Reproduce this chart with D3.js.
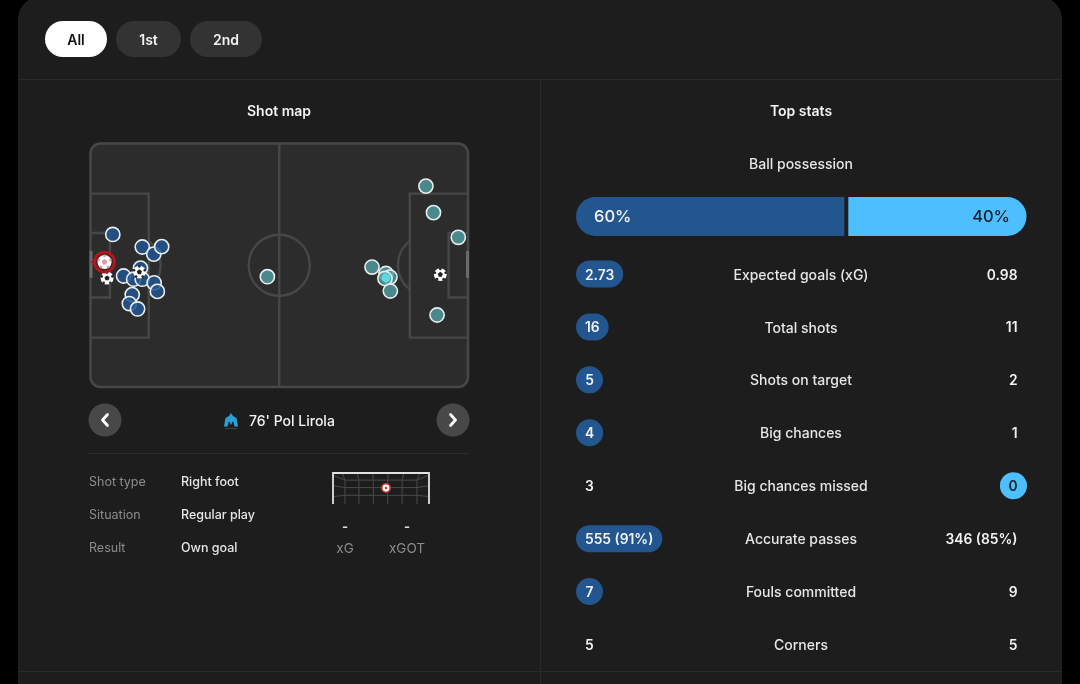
<!DOCTYPE html>
<html>
<head>
<meta charset="utf-8">
<script src="https://cdn.jsdelivr.net/npm/d3@7"></script>
<style>
html, body { margin: 0; padding: 0; background: #000; overflow: hidden; }
svg { display: block; filter: blur(0.35px); }
text { font-family: Inter, Lato, sans-serif; }
</style>
</head>
<body>
<svg id="chart" width="1080" height="684"></svg>
<script>
// pitch is in metres, 105 x 68
const homeShotX = [6.2, 14.4, 17.6, 19.8, 9.2, 12.0, 13.9, 14.4, 17.7, 18.6, 11.6, 10.8, 13.1];
const homeShotY = [25.4, 28.9, 30.9, 28.8, 37.0, 37.9, 34.8, 37.9, 38.9, 41.3, 42.2, 44.7, 46.2];
const awayShotX = [93.3, 95.4, 102.3, 78.3, 82.2, 83.3, 81.9, 83.4, 96.4, 49.2];
const awayShotY = [11.9, 19.3, 26.2, 34.5, 36.3, 37.3, 37.7, 41.2, 47.9, 37.2];
const goalX = [13.6, 4.6, 97.3];
const goalY = [35.9, 37.6, 36.6];
const ownGoal = [3.9, 33.1];

const periods = ["All", "1st", "2nd"];
const possession = [60, 40];
const statLabels = ["Expected goals (xG)", "Total shots", "Shots on target", "Big chances",
    "Big chances missed", "Accurate passes", "Fouls committed", "Corners"];
const homeStats = ["2.73", "16", "5", "4", "3", "555 (91%)", "7", "5"];
const awayStats = ["0.98", "11", "2", "1", "0", "346 (85%)", "9", "5"];
const statLeader = ["home", "home", "home", "home", "away", "home", "home", "none"];
const shotInfoLabels = ["Shot type", "Situation", "Result"];
const shotInfoValues = ["Right foot", "Regular play", "Own goal"];
const xgLabels = ["xG", "xGOT"];
const xgValues = ["-", "-"];

const HOME = "#23558f", AWAY = "#4dbfff", TEAL = "#4f9a9c";
const LINE = "#474747", WHITE = "#f2f2f2", GREY = "#8c8c8c";

const svg = d3.select("#chart");

function label(sel, x, y, txt, size, fill, anchor, weight) {
    return sel.append("text").attr("x", x).attr("y", y + 0.7).attr("dy", "0.35em")
        .attr("font-size", size).attr("fill", fill)
        .attr("text-anchor", anchor || "start")
        .attr("font-weight", weight || 500)
        .text(txt);
}

// card
svg.append("rect").attr("x", 18).attr("y", -3).attr("width", 1044).attr("height", 760)
    .attr("rx", 22).attr("fill", "#1d1d1d");
const dividers = svg.append("g").attr("stroke", "#2a2a2a").attr("stroke-width", 1);
dividers.append("line").attr("x1", 18).attr("x2", 1062).attr("y1", 79.5).attr("y2", 79.5);
dividers.append("line").attr("x1", 18).attr("x2", 1062).attr("y1", 671.5).attr("y2", 671.5);
dividers.append("line").attr("x1", 540.5).attr("x2", 540.5).attr("y1", 80).attr("y2", 684);

// period buttons
const tabLeft = [45, 116, 190], tabWidth = [62, 65, 72];
periods.forEach(function (p, i) {
    svg.append("rect").attr("x", tabLeft[i]).attr("y", 21).attr("width", tabWidth[i]).attr("height", 36)
        .attr("rx", 18).attr("fill", i == 0 ? "#fff" : "#333");
    label(svg, tabLeft[i] + tabWidth[i] / 2, 39.5, p, 14, i == 0 ? "#111" : WHITE, "middle", 600);
});

label(svg, 279, 110.5, "Shot map", 14, WHITE, "middle", 600);
label(svg, 801, 110.5, "Top stats", 14, WHITE, "middle", 600);

/* pitch */
const x = d3.scaleLinear().domain([0, 105]).range([90.5, 468]);
const y = d3.scaleLinear().domain([0, 68]).range([143.5, 387]);

const pitch = svg.append("g");
pitch.append("rect").attr("x", x(0)).attr("y", y(0)).attr("width", x(105) - x(0)).attr("height", y(68) - y(0))
    .attr("rx", 10).attr("fill", "#2c2c2c").attr("stroke", LINE).attr("stroke-width", 2.6);

const lines = pitch.append("g").attr("fill", "none").attr("stroke", LINE).attr("stroke-width", 2.4);
lines.append("line").attr("x1", x(52.5)).attr("x2", x(52.5)).attr("y1", y(0)).attr("y2", y(68));
lines.append("circle").attr("cx", x(52.5)).attr("cy", y(34)).attr("r", x(8.5) - x(0));

[0, 105].forEach(function (end) {
    const dir = end == 0 ? 1 : -1;
    // penalty and six yard boxes
    lines.append("path").attr("d", d3.line()([
        [x(end), y(14)], [x(end + dir * 16.2), y(14)], [x(end + dir * 16.2), y(54.2)], [x(end), y(54.2)]]));
    lines.append("path").attr("d", d3.line()([
        [x(end), y(25)], [x(end + dir * 5.4), y(25)], [x(end + dir * 5.4), y(43)], [x(end), y(43)]]));
    // penalty arc
    const r = x(8.5) - x(0);
    const a = Math.acos(5.2 / 8.5);
    const arc = d3.path();
    const cx = x(end + dir * 11), cy = y(34);
    if (dir == 1) arc.arc(cx, cy, r, -a, a);
    else arc.arc(cx, cy, r, Math.PI - a, Math.PI + a);
    lines.append("path").attr("d", arc.toString());
    // goal
    pitch.append("rect").attr("x", end == 0 ? x(0) - 1 : x(105) - 2).attr("y", y(30)).attr("width", 3)
        .attr("height", y(37.5) - y(30)).attr("fill", "#6a6a6a");
});

function drawShots(xs, ys, color) {
    pitch.append("g").selectAll("circle").data(xs).join("circle")
        .attr("cx", d => x(d))
        .attr("cy", (d, i) => y(ys[i]))
        .attr("r", 7.1)
        .attr("fill", color)
        .attr("fill-opacity", 0.85)
        .attr("stroke", "#e8eef0")
        .attr("stroke-width", 1.6);
}

function drawBall(sel, cx, cy, r, ink) {
    const g = sel.append("g").attr("transform", "translate(" + cx + "," + cy + ")");
    g.append("circle").attr("r", r).attr("fill", "#fff");
    const hex = d3.range(5).map(function (i) {
        const t = -Math.PI / 2 + i * 2 * Math.PI / 5;
        return [Math.cos(t) * r * 0.42, Math.sin(t) * r * 0.42];
    });
    g.append("path").attr("d", d3.line()(hex) + "Z").attr("fill", ink);
    hex.forEach(function (p) {
        g.append("circle").attr("cx", p[0] * 2.1).attr("cy", p[1] * 2.1).attr("r", r * 0.2).attr("fill", ink);
    });
    return g;
}

drawShots(homeShotX, homeShotY, HOME);
drawShots(awayShotX, awayShotY, TEAL);
// the lit one in the cluster
pitch.append("circle").attr("cx", x(82.2)).attr("cy", y(37.5)).attr("r", 4.5).attr("fill", "#63e6ee").attr("fill-opacity", 0.8);
goalX.forEach(function (d, i) { drawBall(pitch, x(d), y(goalY[i]), 6.4, "#222"); });

// selected own goal, with its short shot line
pitch.append("line").attr("x1", x(0)).attr("x2", x(ownGoal[0])).attr("y1", y(ownGoal[1])).attr("y2", y(ownGoal[1]))
    .attr("stroke", "#b3161f").attr("stroke-width", 1.6);
pitch.append("circle").attr("cx", x(ownGoal[0])).attr("cy", y(ownGoal[1])).attr("r", 10)
    .attr("fill", "#4a2226").attr("stroke", "#b3161f").attr("stroke-width", 2.8);
drawBall(pitch, x(ownGoal[0]), y(ownGoal[1]), 7, "#e39aa0");

/* selected shot row */
[[105, "M107.5 414.5 L102.5 420 L107.5 425.5"], [453, "M450.5 414.5 L455.5 420 L450.5 425.5"]].forEach(function (b) {
    svg.append("circle").attr("cx", b[0]).attr("cy", 420).attr("r", 16.5).attr("fill", "#484848");
    svg.append("path").attr("d", b[1]).attr("fill", "none").attr("stroke", "#fff")
        .attr("stroke-width", 2.8).attr("stroke-linecap", "round").attr("stroke-linejoin", "round");
});
// club crest
svg.append("path").attr("d", "M231 413 L233 416 L236.5 418 L238 426.5 L234.5 426.5 L233 421 L231 425 L229 421 L227.5 426.5 L224 426.5 L225.5 418 L229 416 Z")
    .attr("fill", "#2a9fd8");
svg.append("line").attr("x1", 225).attr("x2", 237).attr("y1", 428.5).attr("y2", 428.5).attr("stroke", "#33404a").attr("stroke-width", 1.2);
label(svg, 249, 420.5, "76' Pol Lirola", 14, WHITE, "start", 500);
svg.append("line").attr("x1", 89).attr("x2", 469).attr("y1", 453.5).attr("y2", 453.5).attr("stroke", "#2c2c2c");

shotInfoLabels.forEach(function (d, i) {
    label(svg, 89, 481 + i * 33, d, 12.5, GREY, "start", 400);
    label(svg, 181, 481 + i * 33, shotInfoValues[i], 12.5, "#e6e6e6", "start", 500);
});

/* mini goal */
const goal = svg.append("g");
const gx = d3.scaleLinear().domain([0, 1]).range([333, 429]);
const gy = d3.scaleLinear().domain([0, 1]).range([473, 504]);
const net = goal.append("g").attr("stroke", "#4a4a4a").attr("stroke-width", 1).attr("fill", "none");
const netCols = [0.125, 0.27, 0.42, 0.57, 0.72, 0.875];
const netRows = [0.23, 0.47, 0.72];
netCols.forEach(function (d) {
    net.append("path").attr("d", d3.line()([[gx(d + (d - 0.5) * 0.08), gy(0)], [gx(d), gy(0.23)], [gx(d), gy(1)]]));
});
netRows.forEach(function (d, i) {
    net.append("line").attr("x1", gx(0.125)).attr("x2", gx(0.875)).attr("y1", gy(d)).attr("y2", gy(d));
    net.append("line").attr("x1", gx(0)).attr("x2", gx(0.125)).attr("y1", gy(d - 0.16 + i * 0.1)).attr("y2", gy(d));
    net.append("line").attr("x1", gx(1)).attr("x2", gx(0.875)).attr("y1", gy(d - 0.16 + i * 0.1)).attr("y2", gy(d));
});
goal.append("path").attr("d", d3.line()([[gx(0), gy(1)], [gx(0), gy(0)], [gx(1), gy(0)], [gx(1), gy(1)]]))
    .attr("fill", "none").attr("stroke", "#e2e2e2").attr("stroke-width", 1.8);
goal.append("circle").attr("cx", 386).attr("cy", 488).attr("r", 4.2).attr("fill", "#fff").attr("stroke", "#c9353d").attr("stroke-width", 1.6);
goal.append("circle").attr("cx", 386).attr("cy", 488).attr("r", 1.2).attr("fill", "#c9353d");

const xgCentre = [345, 407];
xgLabels.forEach(function (d, i) {
    label(svg, xgCentre[i], 526, xgValues[i], 13, "#ddd", "middle", 700);
    label(svg, xgCentre[i], 548, d, 13.5, GREY, "middle", 400);
});

/* possession */
label(svg, 801, 163.5, "Ball possession", 14, "#e6e6e6", "middle", 500);
const px = d3.scaleLinear().domain([0, 100]).range([576, 1026.5]);
const barTop = 197, barH = 39, barR = 19.5;
svg.append("path").attr("fill", HOME).attr("d",
    "M" + (px(0) + barR) + " " + barTop + " H" + (px(possession[0]) - 2) + " V" + (barTop + barH) +
    " H" + (px(0) + barR) + " A" + barR + " " + barR + " 0 0 1 " + (px(0) + barR) + " " + barTop + "Z");
svg.append("path").attr("fill", AWAY).attr("d",
    "M" + (px(possession[0]) + 2) + " " + barTop + " H" + (px(100) - barR) +
    " A" + barR + " " + barR + " 0 0 1 " + (px(100) - barR) + " " + (barTop + barH) +
    " H" + (px(possession[0]) + 2) + "Z");
label(svg, 594, 216, possession[0] + "%", 16.5, "#f4f4f4", "start", 500);
label(svg, 1010, 216, possession[1] + "%", 16.5, "#14202c", "end", 500);

/* stat rows */
const rowY = d3.scaleLinear().domain([0, 7]).range([274, 644.5]);
function statValue(row, val, side, leader) {
    const cy = rowY(row);
    const g = svg.append("g");
    const bg = g.append("rect");
    const anchor = side == "home" ? "start" : "end";
    const tx = side == "home" ? 585 : 1017.5;
    const t = label(g, tx, cy, val, 13.8, leader && side == "away" ? "#14202c" : WHITE, anchor, 600);
    if (!leader) { bg.remove(); return; }
    const w = Math.max(27, t.node().getComputedTextLength() + 18);
    if (w == 27) {
        t.attr("text-anchor", "middle").attr("x", side == "home" ? 576 + 13.5 : 1027 - 13.5);
    }
    bg.attr("x", side == "home" ? 576 : 1027 - w).attr("y", cy - 13.5)
        .attr("width", w).attr("height", 27).attr("rx", 13.5)
        .attr("fill", side == "home" ? HOME : AWAY);
}
statLabels.forEach(function (d, i) {
    label(svg, 801, rowY(i), d, 14, "#e6e6e6", "middle", 500);
    statValue(i, homeStats[i], "home", statLeader[i] == "home");
    statValue(i, awayStats[i], "away", statLeader[i] == "away");
});
</script>
</body>
</html>
